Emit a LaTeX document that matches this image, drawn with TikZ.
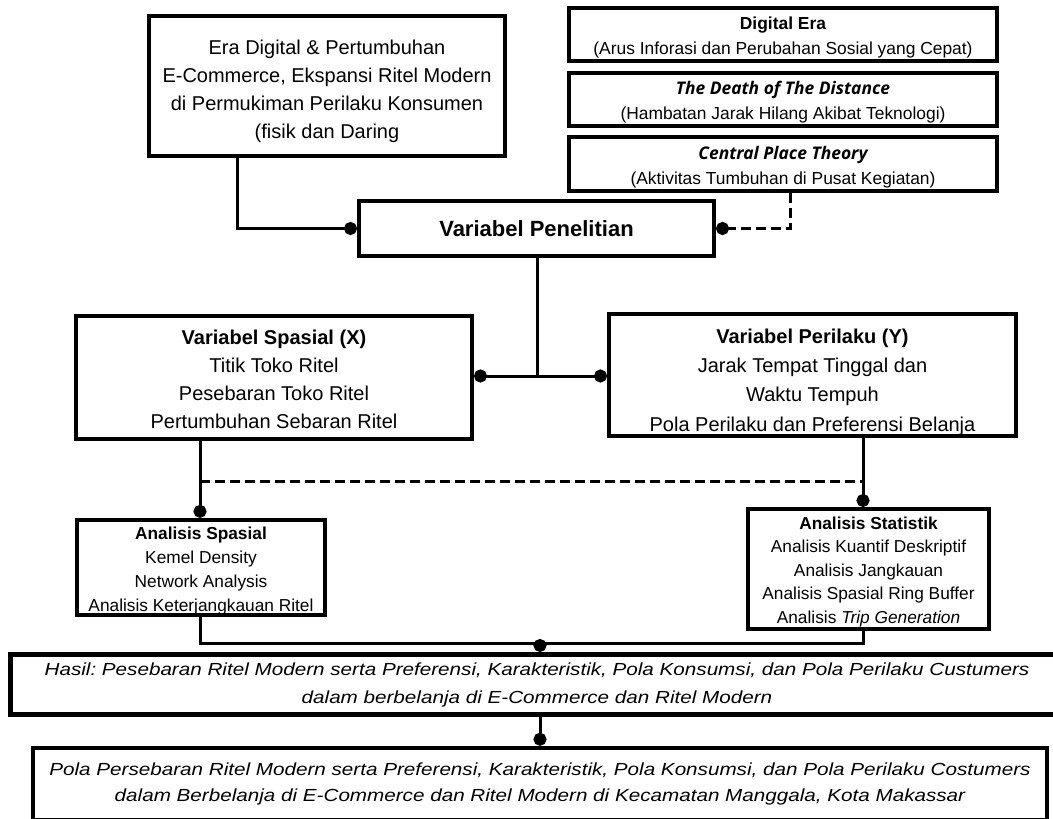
\documentclass[tikz,border=0pt]{standalone}
\usepackage{fontspec}
\setmainfont{Liberation Sans}
\newfontfamily\osans{Open Sans}
\newfontfamily\resfont[FakeStretch=1.18]{Liberation Sans}
\usetikzlibrary{arrows.meta}
\frenchspacing
\newcommand\myup[1]{\rule{0pt}{#1pt}}
\begin{document}
\begin{tikzpicture}[x=1pt,y=-1pt,
  box/.style={draw, line width=4pt, inner sep=0pt, align=center},
  conn/.style={line width=3pt},
  dotend/.style={-{Circle[length=13pt,width=13pt]}},
  dashline/.style={dash pattern=on 10pt off 5pt},
  fbig/.style={font=\fontsize{20}{28}\selectfont},
  fbigy/.style={font=\fontsize{20}{29.3}\selectfont},
  ftheory/.style={font=\fontsize{17.4}{25}\selectfont},
  fan/.style={font=\fontsize{17.3}{24}\selectfont},
  fst/.style={font=\fontsize{17.3}{23.5}\selectfont},
  fres/.style={font=\fontsize{17.5}{28}\selectfont\resfont\itshape},
  fres2/.style={font=\fontsize{17.5}{26}\selectfont\resfont\itshape}
]
\useasboundingbox (0,0) rectangle (1053,819);
% nodes
\node[box,fbig,minimum width=356pt,minimum height=140pt] (A) at (327,86)
  {\myup{24.6}Era Digital \& Pertumbuhan\\E-Commerce, Ekspansi Ritel Modern\\di Permukiman Perilaku Konsumen\\(fisik dan Daring};
\node[box,ftheory,minimum width=428pt,minimum height=53pt] (D1) at (783,34.5)
  {\myup{18.7}\textbf{Digital Era}\\(Arus Inforasi dan Perubahan Sosial yang Cepat)};
\node[box,ftheory,minimum width=428pt,minimum height=53pt] (D2) at (783,99.5)
  {\myup{18.7}{\osans\bfseries\itshape The Death of The Distance}\\(Hambatan Jarak Hilang Akibat Teknologi)};
\node[box,ftheory,minimum width=428pt,minimum height=54pt] (D3) at (783,164)
  {\myup{18.7}{\osans\bfseries\itshape Central Place Theory}\\(Aktivitas Tumbuhan di Pusat Kegiatan)};
\node[box,font=\fontsize{22}{26}\selectfont\bfseries,minimum width=355pt,minimum height=55pt] (VP) at (536.5,228.5)
  {Variabel Penelitian};
\node[box,fbig,minimum width=396pt,minimum height=123pt] (VX) at (274,377.5)
  {\myup{18.6}\textbf{Variabel Spasial (X)}\\Titik Toko Ritel\\Pesebaran Toko Ritel\\Pertumbuhan Sebaran Ritel};
\node[box,fbigy,minimum width=407pt,minimum height=122pt] (VY) at (812.5,375)
  {\myup{28.6}\textbf{Variabel Perilaku (Y)}\\Jarak Tempat Tinggal dan\\Waktu Tempuh\\Pola Perilaku dan Preferensi Belanja};
\node[box,fan,minimum width=248pt,minimum height=93pt] (AS) at (201,567.5)
  {\myup{19.6}\textbf{Analisis Spasial}\\Kemel Density\\Network Analysis\\Analisis Keterjangkauan Ritel};
\node[box,fst,minimum width=241pt,minimum height=120pt] (ST) at (868.5,569)
  {\myup{17.6}\textbf{Analisis Statistik}\\Analisis Kuantif Deskriptif\\Analisis Jangkauan\\Analisis Spasial Ring Buffer\\Analisis \textit{Trip Generation}};
\node[box,line width=5pt,fres,minimum width=1054pt,minimum height=60pt] (H) at (537,684.5)
  {Hasil: Pesebaran Ritel Modern serta Preferensi, Karakteristik, Pola Konsumsi, dan Pola Perilaku Custumers\\dalam berbelanja di E-Commerce dan Ritel Modern};
\node[box,line width=4.5pt,fres2,minimum width=1014pt,minimum height=72pt] (B) at (540,784)
  {Pola Persebaran Ritel Modern serta Preferensi, Karakteristik, Pola Konsumsi, dan Pola Perilaku Costumers\\dalam Berbelanja di E-Commerce dan Ritel Modern di Kecamatan Manggala, Kota Makassar};
% helper coordinates
\coordinate (j1) at (537,376);
\coordinate (dl) at (200,481);
\coordinate (dr) at (863,481);
\coordinate (j2) at (540,643);
% connectors
\draw[conn,dotend] ([xshift=90pt]A.south west) |- (VP.west);
\draw[conn,dashline,dotend] ([xshift=7pt]D3.south) |- (VP.east);
\draw[conn] (VP.south -| j1) -- (j1);
\draw[conn,dotend] (j1) -- (VX.east |- j1);
\draw[conn,dotend] (j1) -- (VY.west |- j1);
\draw[conn,dotend] (VX.south -| dl) -- (AS.north -| dl);
\draw[conn,dotend] (VY.south -| dr) -- (ST.north -| dr);
\draw[conn,dashline] (dl) -- (dr);
\draw[conn] (AS.south -| dl) |- (j2) -| (ST.south -| dr);
\draw[conn,dotend] (j2) -- (H.north -| j2);
\draw[conn,dotend] (H.south -| j2) -- (B.north -| j2);
\end{tikzpicture}
\end{document}
